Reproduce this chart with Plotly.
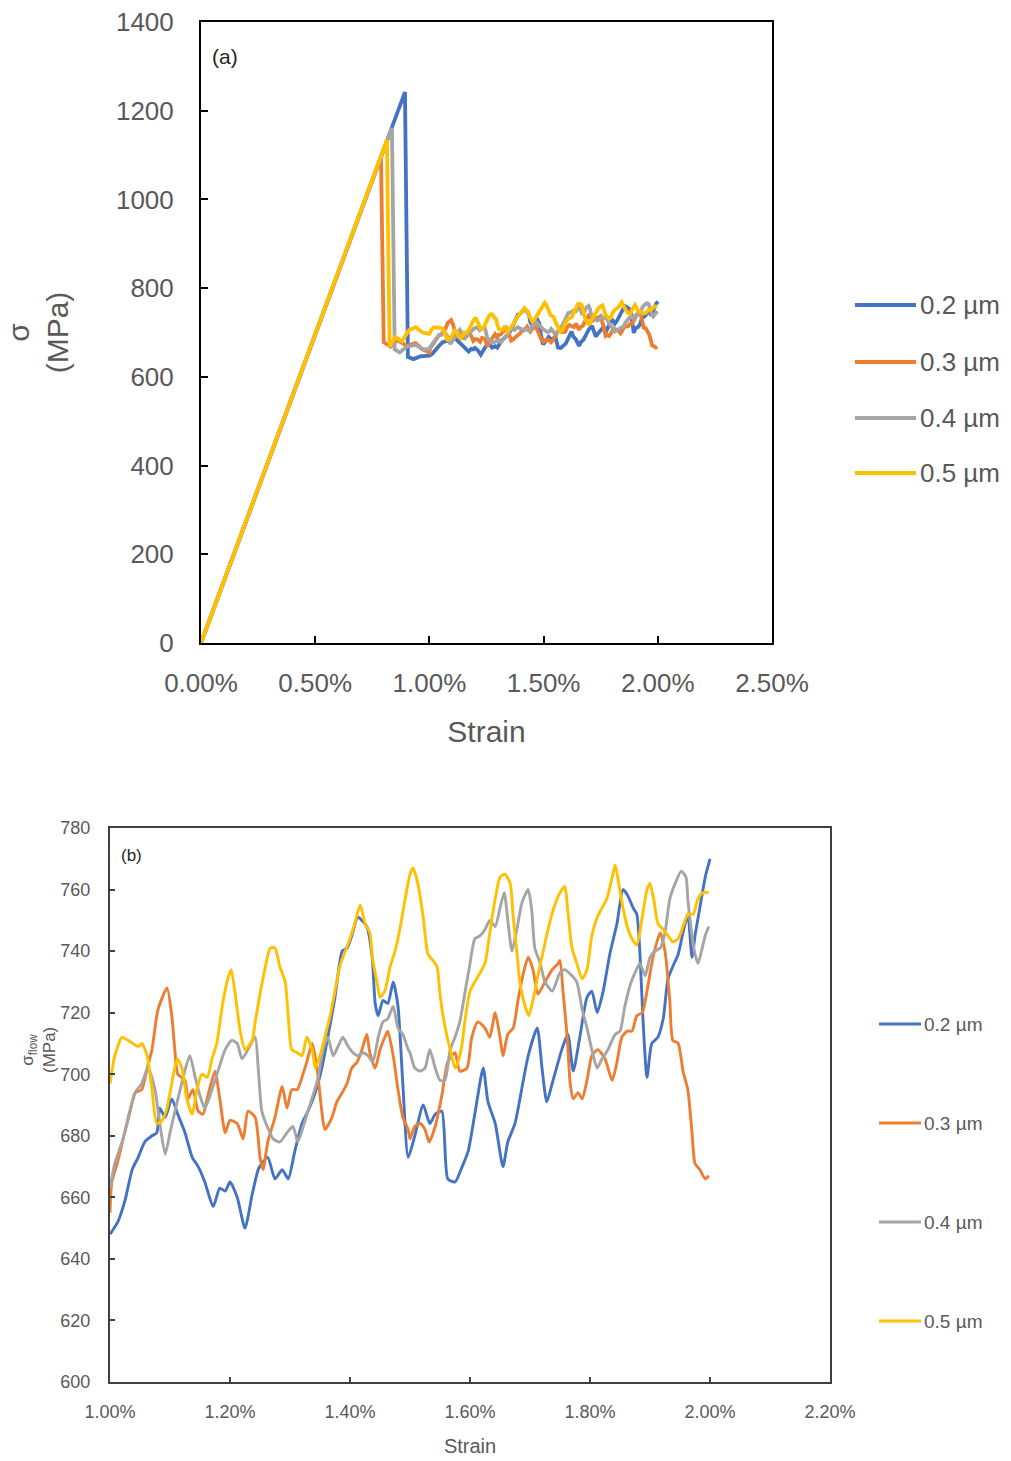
import plotly.graph_objects as go

# ---------------------------------------------------------------------------
# Series labels and colours
# ---------------------------------------------------------------------------
labels = ["0.2 µm", "0.3 µm", "0.4 µm", "0.5 µm"]
colors = ["#4472C4", "#ED7D31", "#A5A5A5", "#FFC000"]

# ---------------------------------------------------------------------------
# Elastic loading, peak and drop (strain in %, stress in MPa)
# ---------------------------------------------------------------------------
pre_strain_02 = [0.0, 0.893, 0.906, 0.930, 0.960]
pre_stress_02 = [0, 1242, 645, 640, 646]

pre_strain_03 = [0.0, 0.788, 0.800, 0.830, 0.860, 0.900, 0.940, 0.970]
pre_stress_03 = [0, 1096, 678, 668, 683, 670, 676, 662]

pre_strain_04 = [0.0, 0.836, 0.848, 0.870, 0.900, 0.940, 0.970]
pre_stress_04 = [0, 1161, 662, 655, 668, 672, 662]

pre_strain_05 = [0.0, 0.814, 0.826, 0.850, 0.880, 0.910, 0.940, 0.970]
pre_stress_05 = [0, 1134, 668, 690, 680, 705, 712, 700]

# ---------------------------------------------------------------------------
# Flow stress between 1 % and 2 % strain
# ---------------------------------------------------------------------------
strain_02 = [1.000, 1.013, 1.025, 1.037, 1.047, 1.058, 1.070, 1.078, 1.083, 1.092,
             1.103, 1.113, 1.125, 1.137, 1.147, 1.158, 1.172, 1.183, 1.192, 1.200,
             1.212, 1.225, 1.237, 1.247, 1.253, 1.263, 1.275, 1.287, 1.297, 1.308,
             1.320, 1.330, 1.342, 1.353, 1.363, 1.375, 1.387, 1.395, 1.403, 1.413,
             1.428, 1.437, 1.442, 1.447, 1.455, 1.463, 1.472, 1.480, 1.488, 1.497,
             1.508, 1.522, 1.533, 1.542, 1.553, 1.563, 1.575, 1.587, 1.597, 1.608,
             1.622, 1.630, 1.642, 1.655, 1.663, 1.675, 1.687, 1.697, 1.712, 1.720,
             1.728, 1.737, 1.747, 1.753, 1.763, 1.772, 1.783, 1.795, 1.803, 1.812,
             1.822, 1.833, 1.845, 1.855, 1.863, 1.872, 1.878, 1.883, 1.888, 1.895,
             1.903, 1.913, 1.922, 1.930, 1.938, 1.947, 1.955, 1.963, 1.970, 1.975,
             1.983, 1.992, 2.000]
stress_02 = [648, 652, 659, 669, 673, 678, 680, 681, 689, 686,
             692, 687, 681, 673, 670, 665, 657, 663, 662, 665,
             660, 650, 661, 669, 671, 673, 666, 669, 666, 675,
             684, 688, 694, 702, 712, 725, 740, 741, 745, 751,
             748, 738, 723, 719, 724, 723, 730, 722, 697, 673,
             680, 690, 684, 687, 688, 666, 665, 670, 675, 687,
             702, 691, 684, 670, 678, 684, 696, 706, 715, 702,
             691, 697, 704, 708, 713, 701, 712, 725, 727, 720,
             727, 739, 749, 760, 758, 754, 752, 740, 719, 699,
             710, 712, 718, 731, 735, 739, 746, 752, 738, 745,
             754, 764, 770]

strain_03 = [1.000, 1.003, 1.012, 1.022, 1.033, 1.042, 1.053, 1.062, 1.070, 1.080,
             1.095, 1.103, 1.108, 1.113, 1.125, 1.130, 1.138, 1.147, 1.155, 1.163,
             1.175, 1.183, 1.192, 1.200, 1.212, 1.222, 1.230, 1.242, 1.250, 1.255,
             1.263, 1.275, 1.287, 1.295, 1.303, 1.312, 1.320, 1.328, 1.337, 1.345,
             1.353, 1.358, 1.370, 1.378, 1.387, 1.395, 1.403, 1.412, 1.420, 1.428,
             1.433, 1.442, 1.450, 1.458, 1.463, 1.472, 1.480, 1.488, 1.497, 1.500,
             1.508, 1.517, 1.525, 1.532, 1.542, 1.553, 1.563, 1.575, 1.583, 1.595,
             1.603, 1.613, 1.625, 1.633, 1.642, 1.650, 1.655, 1.663, 1.672, 1.680,
             1.688, 1.697, 1.705, 1.713, 1.725, 1.737, 1.747, 1.750, 1.755, 1.762,
             1.767, 1.772, 1.780, 1.787, 1.795, 1.803, 1.813, 1.825, 1.837, 1.845,
             1.853, 1.862, 1.870, 1.878, 1.887, 1.895, 1.905, 1.917, 1.925, 1.933,
             1.938, 1.947, 1.955, 1.963, 1.970, 1.975, 1.983, 1.992, 1.998]
stress_03 = [655, 665, 671, 679, 688, 694, 695, 702, 708, 721,
             728, 719, 708, 700, 698, 692, 695, 688, 687, 693,
             701, 692, 681, 685, 684, 679, 688, 686, 673, 669,
             678, 686, 696, 689, 695, 695, 699, 704, 710, 702,
             688, 682, 686, 691, 694, 697, 702, 704, 708, 713,
             707, 702, 708, 712, 714, 706, 695, 686, 682, 679,
             683, 684, 682, 678, 683, 693, 704, 707, 701, 702,
             712, 717, 715, 712, 720, 712, 706, 713, 715, 724,
             732, 738, 734, 726, 730, 734, 736, 737, 727, 712,
             697, 692, 694, 692, 698, 706, 708, 705, 698, 704,
             712, 714, 714, 719, 720, 727, 738, 746, 740, 724,
             711, 710, 701, 695, 681, 671, 669, 666, 667]

strain_04 = [1.000, 1.008, 1.020, 1.030, 1.042, 1.053, 1.063, 1.075, 1.083, 1.092,
             1.100, 1.112, 1.122, 1.133, 1.142, 1.150, 1.158, 1.170, 1.180, 1.192,
             1.203, 1.212, 1.220, 1.230, 1.242, 1.247, 1.253, 1.262, 1.272, 1.283,
             1.295, 1.305, 1.313, 1.322, 1.330, 1.338, 1.347, 1.355, 1.363, 1.372,
             1.380, 1.388, 1.397, 1.405, 1.413, 1.422, 1.430, 1.438, 1.447, 1.455,
             1.463, 1.472, 1.480, 1.488, 1.497, 1.500, 1.508, 1.517, 1.525, 1.533,
             1.542, 1.550, 1.558, 1.567, 1.575, 1.583, 1.592, 1.600, 1.608, 1.617,
             1.625, 1.633, 1.642, 1.650, 1.657, 1.663, 1.670, 1.678, 1.687, 1.697,
             1.703, 1.708, 1.717, 1.725, 1.737, 1.750, 1.758, 1.770, 1.778, 1.787,
             1.795, 1.803, 1.812, 1.820, 1.830, 1.842, 1.850, 1.858, 1.867, 1.875,
             1.883, 1.892, 1.900, 1.908, 1.917, 1.925, 1.933, 1.942, 1.952, 1.960,
             1.963, 1.970, 1.975, 1.980, 1.987, 1.992, 1.998]
stress_04 = [663, 671, 678, 685, 694, 697, 702, 695, 684, 674,
             681, 691, 699, 706, 699, 693, 689, 695, 701, 708,
             711, 710, 705, 708, 712, 702, 688, 683, 679, 678,
             681, 683, 678, 683, 688, 693, 699, 708, 712, 706,
             709, 712, 709, 707, 706, 707, 706, 704, 712, 717,
             718, 722, 715, 713, 708, 707, 702, 701, 702, 708,
             702, 698, 698, 708, 712, 717, 727, 736, 744, 745,
             747, 750, 748, 754, 759, 750, 740, 747, 756, 760,
             753, 741, 736, 730, 727, 733, 734, 732, 730, 721,
             715, 708, 702, 705, 708, 713, 714, 722, 729, 733,
             736, 732, 738, 740, 741, 746, 757, 762, 766, 764,
             757, 745, 739, 736, 741, 745, 748]

strain_05 = [1.000, 1.008, 1.020, 1.030, 1.038, 1.047, 1.053, 1.062, 1.070, 1.078,
             1.087, 1.095, 1.103, 1.112, 1.120, 1.128, 1.137, 1.145, 1.153, 1.162,
             1.170, 1.178, 1.187, 1.195, 1.202, 1.208, 1.217, 1.225, 1.237, 1.242,
             1.250, 1.258, 1.267, 1.275, 1.283, 1.292, 1.297, 1.303, 1.312, 1.320,
             1.328, 1.337, 1.342, 1.350, 1.358, 1.367, 1.375, 1.383, 1.392, 1.400,
             1.408, 1.417, 1.425, 1.433, 1.438, 1.445, 1.450, 1.458, 1.467, 1.475,
             1.483, 1.492, 1.500, 1.505, 1.513, 1.522, 1.530, 1.538, 1.545, 1.550,
             1.555, 1.562, 1.567, 1.575, 1.580, 1.587, 1.592, 1.600, 1.608, 1.617,
             1.625, 1.633, 1.642, 1.650, 1.658, 1.667, 1.672, 1.678, 1.683, 1.692,
             1.698, 1.705, 1.713, 1.722, 1.730, 1.738, 1.750, 1.758, 1.763, 1.770,
             1.778, 1.787, 1.795, 1.803, 1.812, 1.820, 1.828, 1.837, 1.842, 1.847,
             1.853, 1.862, 1.870, 1.878, 1.887, 1.895, 1.900, 1.907, 1.913, 1.922,
             1.930, 1.938, 1.947, 1.955, 1.963, 1.972, 1.980, 1.988, 1.998]
stress_05 = [697, 706, 712, 711, 710, 709, 710, 706, 695, 684,
             685, 689, 697, 705, 702, 692, 687, 695, 700, 699,
             705, 710, 722, 730, 734, 727, 714, 708, 711, 717,
             726, 734, 741, 741, 735, 730, 719, 708, 707, 706,
             712, 708, 702, 706, 712, 719, 727, 735, 740, 744,
             749, 755, 749, 746, 737, 730, 725, 727, 735, 740,
             747, 757, 765, 767, 762, 751, 739, 737, 735, 726,
             719, 712, 708, 702, 704, 710, 718, 727, 730, 733,
             736, 746, 757, 764, 765, 762, 751, 740, 730, 722,
             719, 724, 732, 740, 747, 753, 759, 761, 753, 741,
             736, 731, 734, 745, 751, 754, 757, 764, 768, 763,
             756, 748, 744, 742, 751, 760, 762, 756, 749, 747,
             745, 743, 744, 748, 752, 752, 757, 759, 759]

pre_strains = [pre_strain_02, pre_strain_03, pre_strain_04, pre_strain_05]
pre_stresses = [pre_stress_02, pre_stress_03, pre_stress_04, pre_stress_05]
flow_strains = [strain_02, strain_03, strain_04, strain_05]
flow_stresses = [stress_02, stress_03, stress_04, stress_05]

# Axis ticks
ticks_a_x = [0.0, 0.5, 1.0, 1.5, 2.0, 2.5]
ticks_a_y = [0, 200, 400, 600, 800, 1000, 1200, 1400]
ticks_b_x = [1.0, 1.2, 1.4, 1.6, 1.8, 2.0, 2.2]
ticks_b_y = [600, 620, 640, 660, 680, 700, 720, 740, 760, 780]

FONT = "Liberation Sans, Arial, sans-serif"
TXT = "#595959"
W, H = 1011, 1461

fig = go.Figure()

# (a) full stress-strain curves
for lab, col, ps, pst, fs, fst in zip(labels, colors, pre_strains, pre_stresses,
                                      flow_strains, flow_stresses):
    fig.add_trace(go.Scatter(x=ps + fs, y=pst + fst, mode="lines", name=lab,
                             line=dict(color=col, width=3.8),
                             xaxis="x", yaxis="y", showlegend=False))

# (b) flow region
for lab, col, fs, fst in zip(labels, colors, flow_strains, flow_stresses):
    fig.add_trace(go.Scatter(x=fs, y=fst, mode="lines", name=lab,
                             line=dict(color=col, width=2.9, shape="spline",
                                       smoothing=0.6),
                             xaxis="x2", yaxis="y2", showlegend=False))


def px_x(v):
    return v / W


def px_y(v):
    return 1 - v / H


axis_common = dict(showgrid=False, zeroline=False, showline=True, mirror=True,
                   ticks="inside", automargin=False)

fig.update_layout(
    width=W, height=H, autosize=False,
    margin=dict(l=0, r=0, t=0, b=0, pad=0),
    paper_bgcolor="white", plot_bgcolor="white",
    font=dict(family=FONT, color=TXT),
    xaxis=dict(**axis_common, domain=[px_x(201), px_x(772)], range=[0, 2.5],
               anchor="y", tickvals=ticks_a_x,
               ticktext=[f"{v:.2f}%" for v in ticks_a_x],
               linecolor="black", linewidth=2, tickcolor="black", ticklen=7,
               tickwidth=2, tickfont=dict(size=26, color=TXT),
               ticklabelstandoff=16,
               title=dict(text="Strain", font=dict(size=30, color=TXT), standoff=24)),
    yaxis=dict(**axis_common, domain=[px_y(643), px_y(22)], range=[0, 1400],
               anchor="x", tickvals=ticks_a_y,
               linecolor="black", linewidth=2, tickcolor="black", ticklen=7,
               tickwidth=2, tickfont=dict(size=26, color=TXT),
               ticklabelstandoff=20,
               title=dict(text="σ<br>(MPa)", font=dict(size=30, color=TXT), standoff=38)),
    xaxis2=dict(**axis_common, domain=[px_x(110), px_x(830)], range=[1.0, 2.2],
                anchor="y2", tickvals=ticks_b_x,
                ticktext=[f"{v:.2f}%" for v in ticks_b_x],
                linecolor="#404040", linewidth=2, tickcolor="#404040", ticklen=5,
                tickwidth=1.5, tickfont=dict(size=18, color=TXT),
                ticklabelstandoff=12,
                title=dict(text="Strain", font=dict(size=20, color=TXT), standoff=18)),
    yaxis2=dict(**axis_common, domain=[px_y(1382), px_y(828)], range=[600, 780],
                anchor="x2", tickvals=ticks_b_y,
                linecolor="#404040", linewidth=2, tickcolor="#404040", ticklen=5,
                tickwidth=1.5, tickfont=dict(size=18, color=TXT),
                ticklabelstandoff=14),
)

# Flow-stress axis title, set a little above the axis centre
fig.add_annotation(text="σ<sub>flow</sub><br>(MPa)", xref="paper", yref="paper",
                   x=px_x(38), y=px_y(1050), xanchor="center", yanchor="middle",
                   textangle=-90, showarrow=False,
                   font=dict(size=17, color=TXT))

# Panel tags
fig.add_annotation(text="(a)", xref="x domain", yref="y domain", x=0.015, y=0.945,
                   xanchor="left", yanchor="middle", showarrow=False,
                   font=dict(size=21, color="#262626"))
fig.add_annotation(text="(b)", xref="x2 domain", yref="y2 domain", x=0.012, y=0.95,
                   xanchor="left", yanchor="middle", showarrow=False,
                   font=dict(size=17, color="#262626"))

# Legends, one per panel, with long line keys
leg_a_rows = [305, 362, 418, 473]
leg_b_rows = [1024, 1123, 1222, 1321]
for lab, col, ya, yb in zip(labels, colors, leg_a_rows, leg_b_rows):
    fig.add_shape(type="line", xref="paper", yref="paper",
                  x0=px_x(855), x1=px_x(916), y0=px_y(ya), y1=px_y(ya),
                  line=dict(color=col, width=4))
    fig.add_annotation(text=lab, xref="paper", yref="paper", x=px_x(918), y=px_y(ya),
                       xanchor="left", yanchor="middle", showarrow=False,
                       font=dict(size=26, color=TXT))
    fig.add_shape(type="line", xref="paper", yref="paper",
                  x0=px_x(879), x1=px_x(921), y0=px_y(yb), y1=px_y(yb),
                  line=dict(color=col, width=3))
    fig.add_annotation(text=lab, xref="paper", yref="paper", x=px_x(922), y=px_y(yb),
                       xanchor="left", yanchor="middle", showarrow=False,
                       font=dict(size=19, color=TXT))

fig.write_html("out.html")
